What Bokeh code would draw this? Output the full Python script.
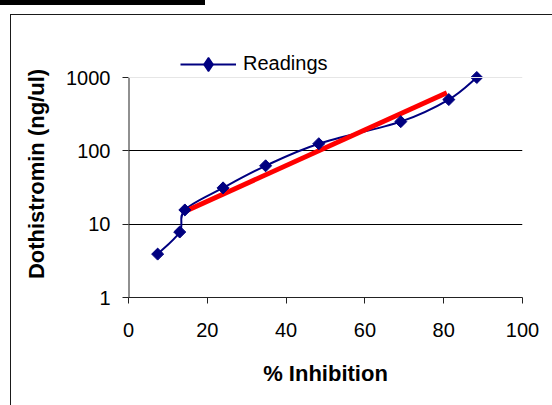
import numpy as np
from bokeh.plotting import figure
from bokeh.models import (Range1d, FixedTicker, NumeralTickFormatter, Span, Legend,
                          LegendItem, ColumnDataSource, InlineStyleSheet)
from bokeh.embed import file_html
from bokeh.resources import INLINE

# ---- data ----
inhibition = [7.4, 13.0, 14.3, 24.0, 34.8, 48.3, 69.1, 81.3, 88.4]
dothistromin = [3.90625, 7.8125, 15.625, 31.25, 62.5, 125, 250, 500, 1000]
trend_x = [14.3, 80.8]
trend_y = [14.9, 620]
x_ticks = [0, 20, 40, 60, 80, 100]
y_ticks = [1, 10, 100, 1000]

FONT = "Liberation Sans"

# plot area: 1..1000 occupies 220 px; extra 27 px on top hold the legend
AXIS_H, LEG_H = 220, 27
y_top = 10 ** (np.log10(y_ticks[-1]) * (AXIS_H + LEG_H) / AXIS_H)

p = figure(frame_width=394, frame_height=AXIS_H + LEG_H,
           x_range=Range1d(x_ticks[0], x_ticks[-1]), y_range=Range1d(y_ticks[0], y_top),
           y_axis_type="log", output_backend="svg", toolbar_location=None,
           min_border_left=128, min_border_right=30, min_border_top=50, min_border_bottom=108)
p.outline_line_color = None
p.background_fill_color = "white"
p.border_fill_color = "white"

# axes
p.xaxis.ticker = FixedTicker(ticks=x_ticks, minor_ticks=[])
p.yaxis.ticker = FixedTicker(ticks=y_ticks, minor_ticks=[])
p.yaxis.formatter = NumeralTickFormatter(format="0")
for ax in (p.xaxis, p.yaxis):
    ax.axis_line_color = "#222222"
    ax.axis_line_width = 1
    ax.major_tick_line_color = "#222222"
    ax.major_tick_out = 6
    ax.major_tick_in = 0
    ax.minor_tick_line_color = None
    ax.major_label_text_font = FONT
    ax.major_label_text_font_size = "20px"
    ax.major_label_text_color = "black"
    ax.axis_label_text_font = FONT
    ax.axis_label_text_font_size = "22px"
    ax.axis_label_text_font_style = "bold"
    ax.axis_label_text_color = "black"
p.yaxis.axis_line_color = None   # drawn below only over 1..1000
p.xaxis.major_label_standoff = 19
p.yaxis.major_label_standoff = 12
p.xaxis.axis_label = "% Inhibition"
p.yaxis.axis_label = "Dothistromin (ng/ul)"
p.xaxis.axis_label_standoff = 21
p.yaxis.axis_label_standoff = 14

# y axis line spanning 1..1000
p.segment(x0=[x_ticks[0]], y0=[y_ticks[0]], x1=[x_ticks[0]], y1=[y_ticks[-1]],
          line_color="#222222", line_width=2)

# grid
p.xgrid.visible = False
p.ygrid.ticker = FixedTicker(ticks=[10, 100])
p.ygrid.grid_line_color = "black"
p.ygrid.grid_line_width = 1
p.add_layout(Span(location=y_ticks[-1], dimension="width", line_color="#e6e6e6", line_width=1))

# smoothed readings line (Excel-style smoothing via bezier segments)
lx = np.array(inhibition, dtype=float)
ly = np.log10(np.array(dothistromin, dtype=float))
n = len(lx)
segs = dict(x0=[], y0=[], x1=[], y1=[], cx0=[], cy0=[], cx1=[], cy1=[])
for i in range(n - 1):
    im = i - 1 if i > 0 else i
    ip = i + 2 if i + 2 < n else i + 1
    segs["x0"].append(lx[i]); segs["y0"].append(10 ** ly[i])
    segs["x1"].append(lx[i + 1]); segs["y1"].append(10 ** ly[i + 1])
    segs["cx0"].append(lx[i] + (lx[i + 1] - lx[im]) / 6)
    segs["cy0"].append(10 ** (ly[i] + (ly[i + 1] - ly[im]) / 6))
    segs["cx1"].append(lx[i + 1] - (lx[ip] - lx[i]) / 6)
    segs["cy1"].append(10 ** (ly[i + 1] - (ly[ip] - ly[i]) / 6))
curve = p.bezier(source=ColumnDataSource(segs), x0="x0", y0="y0", x1="x1", y1="y1",
                 cx0="cx0", cy0="cy0", cx1="cx1", cy1="cy1",
                 line_color="#000080", line_width=2)

# trend line
p.line(trend_x, trend_y, line_color="#ff0000", line_width=5)

# diamond markers (hidden under the rotated squares; used for the legend swatch)
leg_marker = p.scatter(inhibition, dothistromin, marker="diamond", size=8,
                       fill_color="#000080", line_color="#000080", line_width=1.5)
# markers (rotated squares = Excel diamonds)
pts = p.scatter(inhibition, dothistromin, marker="square", angle=np.pi / 4, size=8.5,
                fill_color="#000080", line_color="#000080")

legend = Legend(items=[LegendItem(label="Readings", renderers=[curve, leg_marker])],
                location=(52, 216.5), orientation="vertical",
                border_line_color=None, background_fill_alpha=0,
                padding=0, margin=0, spacing=0, glyph_width=56, glyph_height=34,
                label_height=34, label_standoff=7, label_text_font=FONT,
                label_text_font_size="20px", label_text_color="black")
p.add_layout(legend)

# outer chart frame and cropped top bar (page decoration)
p.stylesheets = [InlineStyleSheet(css="""
:host::before { content: ''; position: absolute; left: 10px; top: 14px; width: 560px; height: 420px;
  border-left: 1.5px solid #1a1a1a; border-top: 1.5px solid #1a1a1a; z-index: 20; pointer-events: none; }
:host::after { content: ''; position: absolute; left: 0px; top: 0px; width: 205px; height: 4.5px;
  background: #000; z-index: 20; pointer-events: none; }
""")]

open("out.html", "w").write(file_html(p, INLINE))
